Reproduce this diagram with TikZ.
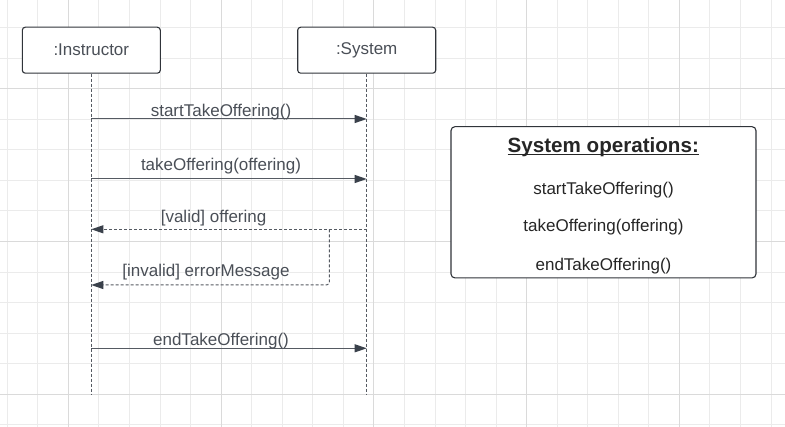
\documentclass[tikz,border=0pt]{standalone}
\usepackage{fontspec}
\setmainfont{Liberation Sans}
\usetikzlibrary{positioning,arrows.meta}
\definecolor{gridminor}{HTML}{EBEBEB}
\definecolor{gridmajor}{HTML}{DADADA}
\definecolor{boxline}{HTML}{30343A}
\definecolor{msgtext}{HTML}{4A4F57}
\definecolor{msgline}{HTML}{555A62}
\definecolor{tipfill}{HTML}{3A414B}
\definecolor{optext}{HTML}{262626}

\begin{document}
\begin{tikzpicture}[x=1pt,y=1pt]
    \tikzstyle{every node}=[inner sep=0,font=\fontsize{17}{20}\selectfont]
    \tikzstyle{minor}=[draw=gridminor,line width=0.8pt]
    \tikzstyle{major}=[draw=gridmajor,line width=0.9pt]
    \tikzstyle{actor}=[draw=boxline,line width=1.1pt,rounded corners=3pt,fill=white,minimum width=138,minimum height=46,text=msgtext]
    \tikzstyle{opsbox}=[draw=boxline,line width=1.1pt,rounded corners=4pt,fill=white,minimum width=305,minimum height=151.3]
    \tikzstyle{lifeline}=[draw=msgline,line width=0.8pt,dash pattern=on 3pt off 2pt]
    \tikzstyle{call}=[draw=msgline,line width=1pt,-{Triangle[length=12pt,width=8pt,color=tipfill]}]
    \tikzstyle{reply}=[call,dash pattern=on 3pt off 2pt,rounded corners=3pt]
    \tikzstyle{lbl}=[text=msgtext]
    \tikzstyle{note}=[text=optext]

    \useasboundingbox (0,0) rectangle (785,-427);
    \fill[white] (0,0) rectangle (785,-427);

    % grid
    \foreach \k in {0,...,25}
        \draw[minor] ({7.2+30.55*\k},0) -- ++(0,-427);
    \foreach \k in {0,...,13}
        \draw[minor] (0,{-27.6-30.55*\k}) -- ++(785,0);
    \foreach \k in {2,7,12,17,22}
        \draw[major] ({7.2+30.55*\k},0) -- ++(0,-427);
    \foreach \k in {2,7,12}
        \draw[major] (0,{-27.6-30.55*\k}) -- ++(785,0);

    % participants
    \node[actor] (inst) at (91.3,-50.2) {:Instructor};
    \node[actor] (sys) at (366.7,-50.2) {:System};
    \coordinate (inst end) at (91.3,-394);
    \coordinate (sys end) at (366.7,-394);
    \draw[lifeline] (inst.south) -- (inst end);
    \draw[lifeline] (sys.south) -- (sys end);

    % message points on the lifelines
    \foreach \n/\y in {1/119,2/179,3/229.3,4/285,5/348.3} {
        \coordinate (i\n) at (91.3,-\y);
        \coordinate (s\n) at (366.7,-\y);
    }
    \coordinate (split) at (329.3,-229.3);

    % messages
    \draw[call] (i1) -- (s1) node[lbl,pos=0.471,yshift=7.2pt] {startTakeOffering()};
    \draw[call] (i2) -- (s2) node[lbl,pos=0.471,yshift=13pt] {takeOffering(offering)};
    \draw[reply] (s3) -- (i3) node[lbl,pos=0.556,yshift=10.8pt] {[valid] offering};
    \draw[reply] (split) |- (i4) node[lbl,pos=0.759,yshift=12.5pt] {[invalid] errorMessage};
    \draw[call] (i5) -- (s5) node[lbl,pos=0.471,yshift=6.8pt] {endTakeOffering()};

    % system operations
    \node[opsbox] (ops) at (603.5,-202.3) {};
    \node[note,font=\fontsize{20.6}{24}\selectfont\bfseries] (opstitle) at (603.3,-147) {System operations:};
    \draw[optext,line width=1.4pt] ([yshift=-2.2pt]opstitle.base west) -- ([yshift=-2.2pt]opstitle.base east);
    \node[note] (op1) at (603.5,-190.2) {startTakeOffering()};
    \node[note] (op2) at (603.5,-227) {takeOffering(offering)};
    \node[note] (op3) at (603.5,-265.8) {endTakeOffering()};
\end{tikzpicture}
\end{document}
